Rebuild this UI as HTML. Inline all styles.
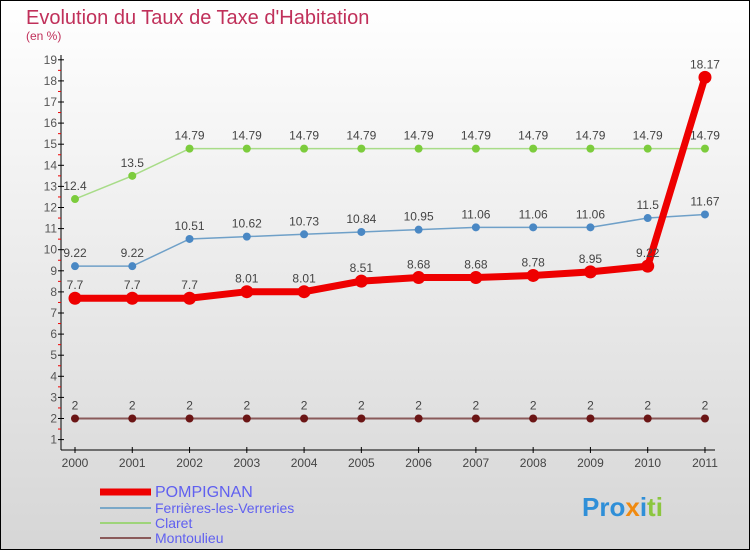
<!DOCTYPE html>
<html><head><meta charset="utf-8"><style>
body{margin:0}
svg{display:block;font-family:"Liberation Sans",sans-serif}
</style></head><body>
<svg width="750" height="550" viewBox="0 0 750 550">
<defs><linearGradient id="bg" x1="0" y1="0" x2="0" y2="1"><stop offset="0" stop-color="#ffffff"/><stop offset="1" stop-color="#d6d6d6"/></linearGradient></defs>
<rect x="0.5" y="0.5" width="749" height="549" fill="url(#bg)" stroke="#000"/>
<text x="26" y="24" font-size="20" fill="#c0305a">Evolution du Taux de Taxe d'Habitation</text>
<text x="26" y="40" font-size="12" fill="#c0305a">(en %)</text>
<g id="axes"></g><g id="series"></g><g id="legend"></g>
<g font-size="26" font-weight="bold">
<text x="582" y="516"><tspan fill="#2f8fd8">Pro</tspan><tspan fill="#f08a10">x</tspan><tspan fill="#2f8fd8">i</tspan><tspan fill="#8cc63f">ti</tspan></text>
</g>
</svg>
<script>
const years=["2000","2001","2002","2003","2004","2005","2006","2007","2008","2009","2010","2011"];
const yTicks=[1,2,3,4,5,6,7,8,9,10,11,12,13,14,15,16,17,18,19];
const pompignan=[7.7,7.7,7.7,8.01,8.01,8.51,8.68,8.68,8.78,8.95,9.22,18.17];
const ferrieres=[9.22,9.22,10.51,10.62,10.73,10.84,10.95,11.06,11.06,11.06,11.5,11.67];
const claret=[12.4,13.5,14.79,14.79,14.79,14.79,14.79,14.79,14.79,14.79,14.79,14.79];
const montoulieu=[2,2,2,2,2,2,2,2,2,2,2,2];
const NS="http://www.w3.org/2000/svg";
const xS=i=>75+i*57.27;
const yS=v=>418.5-(v-2)*21.1;
function mk(t,a,p){const e=document.createElementNS(NS,t);for(const k in a)e.setAttribute(k,a[k]);p.appendChild(e);return e;}
const ax=document.getElementById('axes');
mk('line',{x1:61,y1:55,x2:61,y2:450,stroke:'#000'},ax);
mk('line',{x1:61,y1:450,x2:715,y2:450,stroke:'#000'},ax);
yTicks.forEach(v=>{
 const y=yS(v);
 mk('line',{x1:58,y1:y,x2:64,y2:y,stroke:'#000'},ax);
 if(v<19)mk('line',{x1:58,y1:yS(v+0.5),x2:61,y2:yS(v+0.5),stroke:'#e00'},ax);
 const t=mk('text',{x:57,y:y+4,'font-size':12,fill:'#555','text-anchor':'end'},ax);
 
 
 t.textContent=v;
});
years.forEach((yr,i)=>{
 const x=xS(i);
 mk('line',{x1:x,y1:447,x2:x,y2:453,stroke:'#000'},ax);
 const t=mk('text',{x:x,y:467,'font-size':12,fill:'#444','text-anchor':'middle'},ax);
 
 
 t.textContent=yr;
});
const sg=document.getElementById('series');
function series(data,name,col,w,r,dot){
 const g=mk('g',{},sg);
 
 
 mk('polyline',{points:data.map((v,i)=>xS(i)+','+yS(v)).join(' '),fill:'none',stroke:col,'stroke-width':w},g);
 data.forEach((v,i)=>{
  const c=mk('circle',{cx:xS(i),cy:yS(v),r:r,fill:dot},g);
  
  
  const t=mk('text',{x:xS(i),y:yS(v)-9,'font-size':12,fill:'#444','text-anchor':'middle'},g);
  
  
  t.textContent=v;
 });
}
series(montoulieu,'montoulieu','#8a5a5a',2,4,'#6b1515');
series(claret,'claret','#a8dc88',1.5,4,'#7ccc3c');
series(ferrieres,'ferrieres','#6fa0c8',1.5,4,'#4a88c4');
series(pompignan,'pompignan','#ee0000',7,6.5,'#ee0000');
const lg=document.getElementById('legend');
[["POMPIGNAN",'#ee0000',7,492,16],["Ferrières-les-Verreries",'#7aa8c8',2,508,14],["Claret",'#9ed47a',2,523,14],["Montoulieu",'#8a5a5a',2,538,14]].forEach(d=>{
 const g=mk('g',{},lg);
 
 
 mk('line',{x1:100,y1:d[3],x2:151,y2:d[3],stroke:d[1],'stroke-width':d[2]},g);
 const t=mk('text',{x:155,y:d[3]+5,'font-size':d[4],fill:'#6060f0'},g);
 t.textContent=d[0];
});
</script>
</body></html>
